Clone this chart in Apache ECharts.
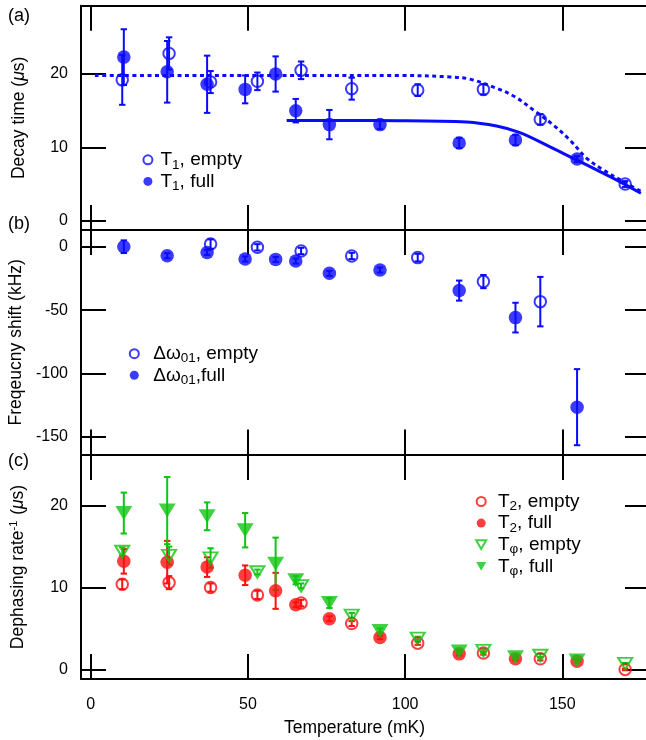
<!DOCTYPE html>
<html>
<head>
<meta charset="utf-8">
<title>Decay time, frequency shift and dephasing rate vs temperature</title>
<script src="https://cdn.jsdelivr.net/npm/echarts@6/dist/echarts.min.js"></script>
<style>
  html, body { margin: 0; padding: 0; background: #fff; }
  #chart { width: 646px; height: 740px; }
</style>
</head>
<body>
<div id="chart"></div>
<script>
// ---- temperatures (mK) ----
const tempFull  = [10.5, 24.3, 37.0, 49.1, 58.8, 65.2, 75.9, 92.0, 117.2, 135.1, 154.7];
const tempEmpty = [10.0, 24.9, 38.1, 53.0, 66.9, 83.0, 104.0, 124.9, 143.0, 170.0];
const shiftEmptyTemp = [38.1, 53.0, 66.9, 83.0, 104.0, 124.9, 143.0];

// ---- (a) T1 decay time (us) ----
const t1Empty    = [19.2, 22.8, 18.9, 19.0, 20.5, 18.0, 17.8, 17.9, 13.8, 5.0];
const t1EmptyErr = [3.4, 2.2, 1.5, 1.2, 1.2, 1.5, 0.8, 0.7, 0.7, 0.4];
const t1Full     = [22.3, 20.3, 18.6, 17.9, 20.0, 15.0, 13.1, 13.1, 10.6, 11.0, 8.4];
const t1FullErr  = [3.8, 4.2, 3.9, 1.9, 2.4, 1.6, 2.0, 0.6, 0.7, 0.7, 0.4];

// model curves for T1
const fitEmptyT = [1.3, 20, 60, 98.3, 114.3, 120.6, 129.1, 134.9, 140.8, 147.1, 152.4, 157.8, 163.1, 168.9, 175.0];
const fitEmptyV = [19.8, 19.8, 19.8, 19.8, 19.6, 19.3, 18.05, 16.9, 15.1, 13.05, 11.0, 8.5, 6.9, 5.45, 4.0];
const fitFullT  = [62.3, 80, 98.3, 119.6, 129.1, 136.5, 145.0, 153.5, 162.0, 168.4, 175.0];
const fitFullV  = [13.65, 13.65, 13.64, 13.46, 12.9, 12.0, 10.3, 8.5, 6.7, 5.3, 3.75];

// ---- (b) frequency shift (kHz) ----
const shiftEmpty    = [2.1, -0.5, -3.4, -7.3, -8.6, -27.5, -43.3];
const shiftEmptyErr = [3.7, 2.5, 2.5, 2.5, 3.0, 5.2, 19.5];
const shiftFull     = [0.0, -7.1, -4.5, -9.7, -10.0, -11.3, -21.0, -18.4, -34.6, -55.9, -126.5];
const shiftFullErr  = [5.0, 2.0, 2.0, 2.0, 2.0, 2.0, 2.0, 2.0, 7.9, 11.7, 30.0];

// ---- (c) dephasing rate^-1 (us) ----
const t2Empty      = [10.4, 10.6, 10.0, 9.1, 8.1, 5.6, 3.2, 2.0, 1.3, 0.0];
const t2EmptyErr   = [0.6, 0.8, 0.5, 0.5, 0.4, 0.3, 0.2, 0.2, 0.2, 0.1];
const t2Full       = [13.2, 13.1, 12.5, 11.5, 9.6, 7.9, 6.2, 3.9, 1.9, 1.3, 1.0];
const t2FullErr    = [1.5, 2.6, 1.2, 1.2, 2.2, 0.3, 0.3, 0.2, 0.2, 0.2, 0.1];
const tphiEmpty    = [14.4, 13.9, 13.6, 11.9, 10.2, 6.6, 3.8, 2.3, 1.7, 0.7];
const tphiEmptyErr = [0.5, 1.1, 1.2, 0.3, 0.3, 0.3, 0.2, 0.2, 0.2, 0.1];
const tphiFull     = [19.1, 19.4, 18.7, 17.0, 12.9, 10.9, 8.1, 4.7, 2.2, 1.5, 1.1];
const tphiFullErr  = [2.5, 4.1, 1.7, 2.1, 3.2, 0.5, 0.6, 0.3, 0.2, 0.2, 0.1];

// ---- tick values ----
const xTicks  = [0, 50, 100, 150];
const yTicksA = [0, 10, 20];
const yTicksB = [0, -50, -100, -150];
const yTicksC = [0, 10, 20];

// ---------------------------------------------------------------
const FONT = "'Liberation Sans', Arial, Helvetica, sans-serif";
const BLUE = '#0a0aff';
const RED = '#ff0f0f';
const GREEN = '#12c412';
const NONE = 'rgba(0,0,0,0)';
const DOWN_TRIANGLE = 'path://M0,0L10,0L5,8.66Z';

const zip = (xs, ys) => xs.map((x, i) => [x, ys[i]]);
const zip3 = (xs, ys, es) => xs.map((x, i) => [x, ys[i], es[i]]);

const X_MIN = -3.12, X_MAX = 177.9;

function xAxis(gridIndex, position, labels) {
  return {
    type: 'value', gridIndex, position, min: X_MIN, max: X_MAX,
    axisLine: { show: true, onZero: false, lineStyle: { color: '#000', width: 2 } },
    axisTick: { show: true, inside: true, length: 25, customValues: xTicks,
                lineStyle: { color: '#000', width: 2 } },
    axisLabel: { show: labels, customValues: xTicks, margin: 17.5, fontSize: 16,
                 color: '#000', fontFamily: FONT },
    splitLine: { show: false }
  };
}

function yAxis(gridIndex, position, min, max, ticks, labels, name) {
  const ax = {
    type: 'value', gridIndex, position, min, max,
    axisLine: { show: true, onZero: false, lineStyle: { color: '#000', width: 2 } },
    axisTick: { show: true, inside: true, length: 25, customValues: ticks,
                lineStyle: { color: '#000', width: 2 } },
    axisLabel: { show: labels, customValues: ticks, margin: 13, fontSize: 16,
                 color: '#000', fontFamily: FONT },
    splitLine: { show: false }
  };
  if (name) {
    ax.name = name;
    ax.nameLocation = 'middle';
    ax.nameGap = 53;
    ax.nameTextStyle = {
      fontSize: 17.5, fontFamily: FONT, color: '#000',
      rich: {
        t: { fontSize: 17.5, fontFamily: FONT, color: '#000' },
        i: { fontSize: 17.5, fontFamily: FONT, color: '#000', fontStyle: 'italic' },
        sup: { fontSize: 11, fontFamily: FONT, color: '#000', padding: [0, 1, 9, 0] }
      }
    };
  }
  return ax;
}

// vertical error bar with short caps, placed through the axis scales
function errorBar(params, api) {
  const x = api.value(0), y = api.value(1), e = api.value(2);
  const hi = api.coord([x, y + e]);
  const lo = api.coord([x, y - e]);
  const hw = 3.2;
  const style = { stroke: api.visual('color'), lineWidth: 2, fill: null };
  return {
    type: 'group',
    children: [
      { type: 'line', shape: { x1: hi[0], y1: hi[1], x2: lo[0], y2: lo[1] }, style },
      { type: 'line', shape: { x1: hi[0] - hw, y1: hi[1], x2: hi[0] + hw, y2: hi[1] }, style },
      { type: 'line', shape: { x1: lo[0] - hw, y1: lo[1], x2: lo[0] + hw, y2: lo[1] }, style }
    ]
  };
}

function bars(grid, xs, ys, es, color) {
  return {
    type: 'custom', xAxisIndex: 2 * grid, yAxisIndex: 2 * grid,
    renderItem: errorBar, data: zip3(xs, ys, es), z: 2,
    itemStyle: { color }, clip: false, silent: true
  };
}

function points(grid, name, xs, ys, color, filled, shape) {
  const tri = shape === 'tri';
  return {
    type: 'scatter', name, xAxisIndex: 2 * grid, yAxisIndex: 2 * grid,
    data: zip(xs, ys), z: 3, silent: true,
    symbol: tri ? 'triangle' : 'circle',
    symbolRotate: tri ? 180 : 0,
    symbolSize: tri ? (filled ? [17, 14] : [14, 11.5]) : (filled ? 13.5 : 11.5),
    itemStyle: filled ? { color, borderWidth: 0 }
                      : { color: NONE, borderColor: color, borderWidth: 2 }
  };
}

const legendNames = {
  'T1, empty': '{n|T}{s|1}{n|, empty}',
  'T1, full': '{n|T}{s|1}{n|, full}',
  'Δω01, empty': '{n|Δω}{s|01}{n|, empty}',
  'Δω01,full': '{n|Δω}{s|01}{n|,full}',
  'T2, empty': '{n|T}{s|2}{n|, empty}',
  'T2, full': '{n|T}{s|2}{n|, full}',
  'Tφ, empty': '{n|T}{s|φ}{n|, empty}',
  'Tφ, full': '{n|T}{s|φ}{n|, full}'
};

// legend block: icon, then a fixed gap before the label text
function legend(items, left, top, gap) {
  return {
    data: items, orient: 'vertical', left, top,
    itemWidth: 10, itemHeight: 9, itemGap: -2.4,
    selectedMode: false,
    formatter: (n) => '{g| }' + legendNames[n],
    textStyle: {
      fontFamily: FONT, fontSize: 19, color: '#000',
      rich: {
        g: { fontFamily: FONT, fontSize: 19, width: gap, lineHeight: 19 },
        n: { fontFamily: FONT, fontSize: 19, color: '#000', lineHeight: 19 },
        s: { fontFamily: FONT, fontSize: 13.5, color: '#000', lineHeight: 8, padding: [10, 0, 0, 0] }
      }
    }
  };
}

const gridBox = { left: 81, width: 569, outerBoundsMode: 'none', containLabel: false };

const option = {
  animation: false,
  backgroundColor: '#fff',
  grid: [
    Object.assign({ top: 5.7, height: 224.3 }, gridBox),
    Object.assign({ top: 230, height: 224.5 }, gridBox),
    Object.assign({ top: 455, height: 224 }, gridBox)
  ],
  xAxis: [
    xAxis(0, 'bottom', false), xAxis(0, 'top', false),
    xAxis(1, 'bottom', false), xAxis(1, 'top', false),
    xAxis(2, 'bottom', true),  xAxis(2, 'top', false)
  ],
  yAxis: [
    yAxis(0, 'left', -1.268, 29.31, yTicksA, true, '{t|Decay time (}{i|μ}{t|s)}'),
    yAxis(0, 'right', -1.268, 29.31, yTicksA, false),
    yAxis(1, 'left', -163.8, 13.16, yTicksB, true, '{t|Freqeucny shift (kHz)}'),
    yAxis(1, 'right', -163.8, 13.16, yTicksB, false),
    yAxis(2, 'left', -1.17, 26.19, yTicksC, true, '{t|Dephasing rate}{sup|-1}{t| (}{i|μ}{t|s)}'),
    yAxis(2, 'right', -1.17, 26.19, yTicksC, false)
  ],
  legend: [
    legend(['T1, empty', 'T1, full'], 137.4, 142.8, 2.6),
    legend(['Δω01, empty', 'Δω01,full'], 123.8, 336.7, 8.9),
    legend(['T2, empty', 'T2, full',
            { name: 'Tφ, empty', icon: DOWN_TRIANGLE },
            { name: 'Tφ, full', icon: DOWN_TRIANGLE }], 470.2, 484.5, 6.8)
  ],
  graphic: [
    { type: 'text', left: 8, top: 7, style: { text: '(a)', font: `18px ${FONT}`, fill: '#000' } },
    { type: 'text', left: 8, top: 215, style: { text: '(b)', font: `18px ${FONT}`, fill: '#000' } },
    { type: 'text', left: 8, top: 452, style: { text: '(c)', font: `18px ${FONT}`, fill: '#000' } },
    { type: 'text', x: 354.5, y: 728, style: { text: 'Temperature (mK)', font: `17.5px ${FONT}`,
      fill: '#000', align: 'center', verticalAlign: 'middle' } }
  ],
  series: [
    // (a) model curves
    { type: 'line', xAxisIndex: 0, yAxisIndex: 0, data: zip(fitEmptyT, fitEmptyV),
      smooth: 0.35, symbol: 'none', z: 1, silent: true,
      lineStyle: { color: BLUE, width: 3, type: [4, 3.5] } },
    { type: 'line', xAxisIndex: 0, yAxisIndex: 0, data: zip(fitFullT, fitFullV),
      smooth: 0.35, symbol: 'none', z: 1, silent: true,
      lineStyle: { color: BLUE, width: 3 } },
    // (a) data
    bars(0, tempEmpty, t1Empty, t1EmptyErr, BLUE),
    bars(0, tempFull, t1Full, t1FullErr, BLUE),
    points(0, 'T1, empty', tempEmpty, t1Empty, BLUE, false, 'circle'),
    points(0, 'T1, full', tempFull, t1Full, BLUE, true, 'circle'),
    // (b)
    bars(1, shiftEmptyTemp, shiftEmpty, shiftEmptyErr, BLUE),
    bars(1, tempFull, shiftFull, shiftFullErr, BLUE),
    points(1, 'Δω01, empty', shiftEmptyTemp, shiftEmpty, BLUE, false, 'circle'),
    points(1, 'Δω01,full', tempFull, shiftFull, BLUE, true, 'circle'),
    // (c)
    bars(2, tempEmpty, t2Empty, t2EmptyErr, RED),
    bars(2, tempFull, t2Full, t2FullErr, RED),
    bars(2, tempEmpty, tphiEmpty, tphiEmptyErr, GREEN),
    bars(2, tempFull, tphiFull, tphiFullErr, GREEN),
    points(2, 'T2, empty', tempEmpty, t2Empty, RED, false, 'circle'),
    points(2, 'T2, full', tempFull, t2Full, RED, true, 'circle'),
    points(2, 'Tφ, empty', tempEmpty, tphiEmpty, GREEN, false, 'tri'),
    points(2, 'Tφ, full', tempFull, tphiFull, GREEN, true, 'tri')
  ]
};

const chart = echarts.init(document.getElementById('chart'), null, { renderer: 'canvas' });
chart.setOption(option);
</script>
</body>
</html>
